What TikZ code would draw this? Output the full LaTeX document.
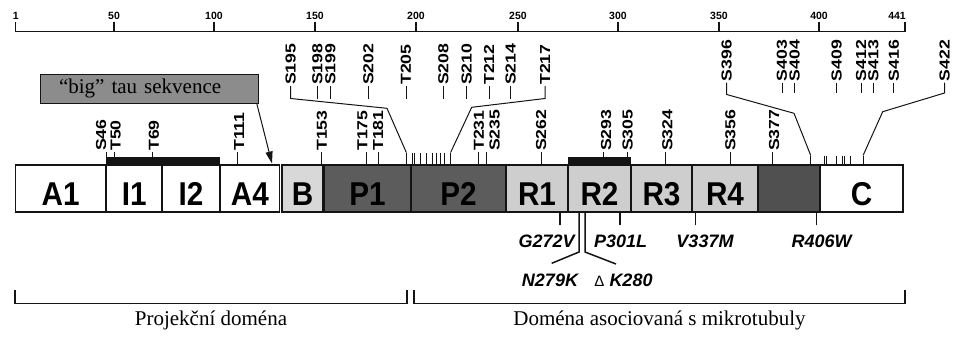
\documentclass[tikz,border=0pt]{standalone}
\usepackage{fontspec}
\setmainfont{Liberation Serif}
\setsansfont{Liberation Sans}
\usetikzlibrary{arrows.meta}
\definecolor{ink}{RGB}{20,20,20}
\definecolor{lite}{RGB}{216,216,216}
\definecolor{rep}{RGB}{206,206,206}
\definecolor{proline}{RGB}{92,92,92}
\definecolor{pseudo}{RGB}{80,80,80}
\definecolor{tag}{RGB}{140,140,140}
\newcommand\domtxt[1]{\scalebox{0.9}[1]{#1}}
\newcommand\sitetxt[1]{\scalebox{1.22}[1]{#1}}

\begin{document}
\begin{tikzpicture}[x=1pt,y=-1pt,
  dom/.style={draw=ink,line width=1.3pt,minimum height=47pt,inner sep=0pt,text height=34pt,text depth=0pt,font=\sffamily\bfseries\fontsize{33}{33}\selectfont},
  site/.style={rotate=90,anchor=west,inner sep=1pt,font=\sffamily\bfseries\fontsize{14.5}{14.5}\selectfont},
  mut/.style={inner sep=0pt,font=\sffamily\bfseries\itshape\fontsize{18}{18}\selectfont},
  rnum/.style={anchor=base,inner sep=0pt,font=\sffamily\bfseries\fontsize{10.5}{10.5}\selectfont},
  dlbl/.style={inner sep=0pt,font=\fontsize{21}{21}\selectfont},
  tk/.style={draw=ink,line width=1pt},
  rul/.style={draw=ink,line width=1.2pt},
  brk/.style={draw=ink,line width=1.5pt}
]
\useasboundingbox (0,0) rectangle (953,341);

\draw[rul] (15.7,21.7) -- (15.7,31.5) -- (905,31.5) -- (905,21.7);
\node[rnum] (n1) at (15.7,19.3) {1};
\node[rnum,anchor=base east] (n441) at (906,19.3) {441};
\foreach \px/\lab in {114/50,214/100,315/150,416/200,518/250,618/300,719/350,819/400}{
  \node[rnum] (n\lab) at (\px,19.3) {\lab};
  \draw[rul] (\px,21.7) -- (\px,31.5);
}

\node[dom,fill=white,minimum width=89.8pt] (A1) at (60.6,188.6) {\domtxt{A1}};
\node[dom,fill=white,minimum width=55.5pt] (I1) at (134.3,188.6) {\domtxt{I1}};
\node[dom,fill=white,minimum width=58pt] (I2) at (191,188.6) {\domtxt{I2}};
\node[dom,fill=white,minimum width=59.5pt] (A4) at (249.8,188.6) {\domtxt{A4}};
\node[dom,fill=lite,minimum width=41pt] (B) at (302.5,188.6) {\domtxt{B}};
\node[dom,fill=proline,minimum width=87pt] (P1) at (367.5,188.6) {\domtxt{P1}};
\node[dom,fill=proline,minimum width=95pt] (P2) at (458.5,188.6) {\domtxt{P2}};
\node[dom,fill=rep,minimum width=62pt] (R1) at (537,188.6) {\domtxt{R1}};
\node[dom,fill=rep,minimum width=63pt] (R2) at (599.5,188.6) {\domtxt{R2}};
\node[dom,fill=rep,minimum width=61pt] (R3) at (661.5,188.6) {\domtxt{R3}};
\node[dom,fill=rep,minimum width=66pt] (R4) at (725,188.6) {\domtxt{R4}};
\node[dom,fill=pseudo,minimum width=62pt] (R5) at (789,188.6) {};
\node[dom,fill=white,minimum width=83pt] (C) at (861.5,188.6) {\domtxt{C}};

\fill[ink] (107,157) rectangle (220,165.5);
\fill[ink] (568,157) rectangle (631,165.5);

\foreach \res/\nm/\dx in {46/S46/-5.5,50/T50/1,69/T69/1,111/T111/1.7,153/T153/0,175/T175/-3.6,181/T181/0,231/T231/0,235/S235/7.7,262/S262/0,293/S293/2.5,305/S305/0,324/S324/1.5,356/S356/0,377/S377/1.5}{
  \coordinate (k\nm) at ({14+2.012*\res},152);
  \node[site] (s\nm) at ([xshift=\dx pt]k\nm) {\sitetxt{\nm}};
  \draw[tk] (k\nm) -- (k\nm |- A1.north);
}

\foreach \px/\nm in {290.7/S195,317.5/S198,330.5/S199,368.3/S202,406/T205,443.3/S208,466.7/S210,489/T212,510.7/S214,545/T217}{
  \node[site] (u\nm) at (\px,86) {\sitetxt{\nm}};
}
\foreach \nm in {S198,S199,S202,T205,S208,S210,T212,S214}{
  \draw[tk] (u\nm.west) -- ++(0,13);
}
\foreach \res in {195,198,199,202,205,208,210,212,214,217}{
  \coordinate (r\res) at ({14+2.012*\res},152.5);
  \draw[tk] (r\res) -- (r\res |- P2.north);
}
\draw[tk] (uS195.west) -- ++(0,12.5) -- (387,108.3) -- (r195);
\draw[tk] (uT217.west) -- ++(0,12.5) -- (471.7,107.3) -- (r217);

\foreach \px/\nm in {726.7/S396,782/S403,794.5/S404,836.7/S409,861/S412,873.5/S413,893.8/S416,944.5/S422}{
  \node[site] (u\nm) at (\px,82.5) {\sitetxt{\nm}};
}
\foreach \nm in {S403,S404,S409,S412,S413,S416}{
  \draw[tk] (u\nm.west) -- ++(0,10.5);
}
\foreach \res in {396,403,404,409,412,413,416,422}{
  \coordinate (r\res) at ({14+2.012*\res},155.5);
  \draw[tk] (r\res) -- (r\res |- C.north);
}
\draw[tk] (uS396.west) -- ++(0,12) -- (794,113.3) -- (r396);
\draw[tk] (uS422.west) -- ++(0,10.5) -- (882.7,111.7) -- (r422);

\node[draw=ink,fill=tag,line width=1pt,minimum height=29.3pt,inner xsep=19pt,inner ysep=0pt,text width=180.3pt,align=left,font=\fontsize{21}{21}\selectfont] (big) at (149.2,88.7) {“big” tau sekvence};
\coordinate (a4tip) at (272,163.5);
\draw[ink,line width=1pt,-{Triangle[length=12pt,width=7pt]}] ([xshift=-2pt]big.south east) -- (a4tip);

\foreach \px/\nm/\lx in {560/G272V/546.7,620/P301L/620.7,695.7/V337M/705,816.7/R406W/821.7}{
  \node[mut] (m\nm) at (\lx,241.7) {\nm};
  \coordinate (t\nm) at (\px,225);
  \draw[tk,line width=1.5pt] (t\nm) -- (t\nm |- R1.south);
}
\coordinate (nk) at (579,252);
\coordinate (dk) at (585,252);
\draw[tk,line width=1.5pt] (nk |- R2.south) -- (nk) -- (551.7,263.3);
\draw[tk,line width=1.5pt] (dk |- R2.south) -- (dk) -- (616,264);
\node[mut] (mN279K) at (550,280.5) {N279K};
\node[mut] (mK280) at (623.5,280.5) {{\mdseries\upshape\fontsize{15}{15}\selectfont Δ} K280};

\coordinate (pjL) at (15,290);
\coordinate (pjR) at (407,290);
\coordinate (mtL) at (414,290);
\coordinate (mtR) at (905,290);
\draw[brk] (pjL) -- ++(0,13.5) -| (pjR);
\draw[brk] (mtL) -- ++(0,13.5) -| (mtR);
\node[dlbl] (proj) at (211,320) {Projekční doména};
\node[dlbl] (mtbd) at (659.5,320) {Doména asociovaná s mikrotubuly};
\end{tikzpicture}
\end{document}
